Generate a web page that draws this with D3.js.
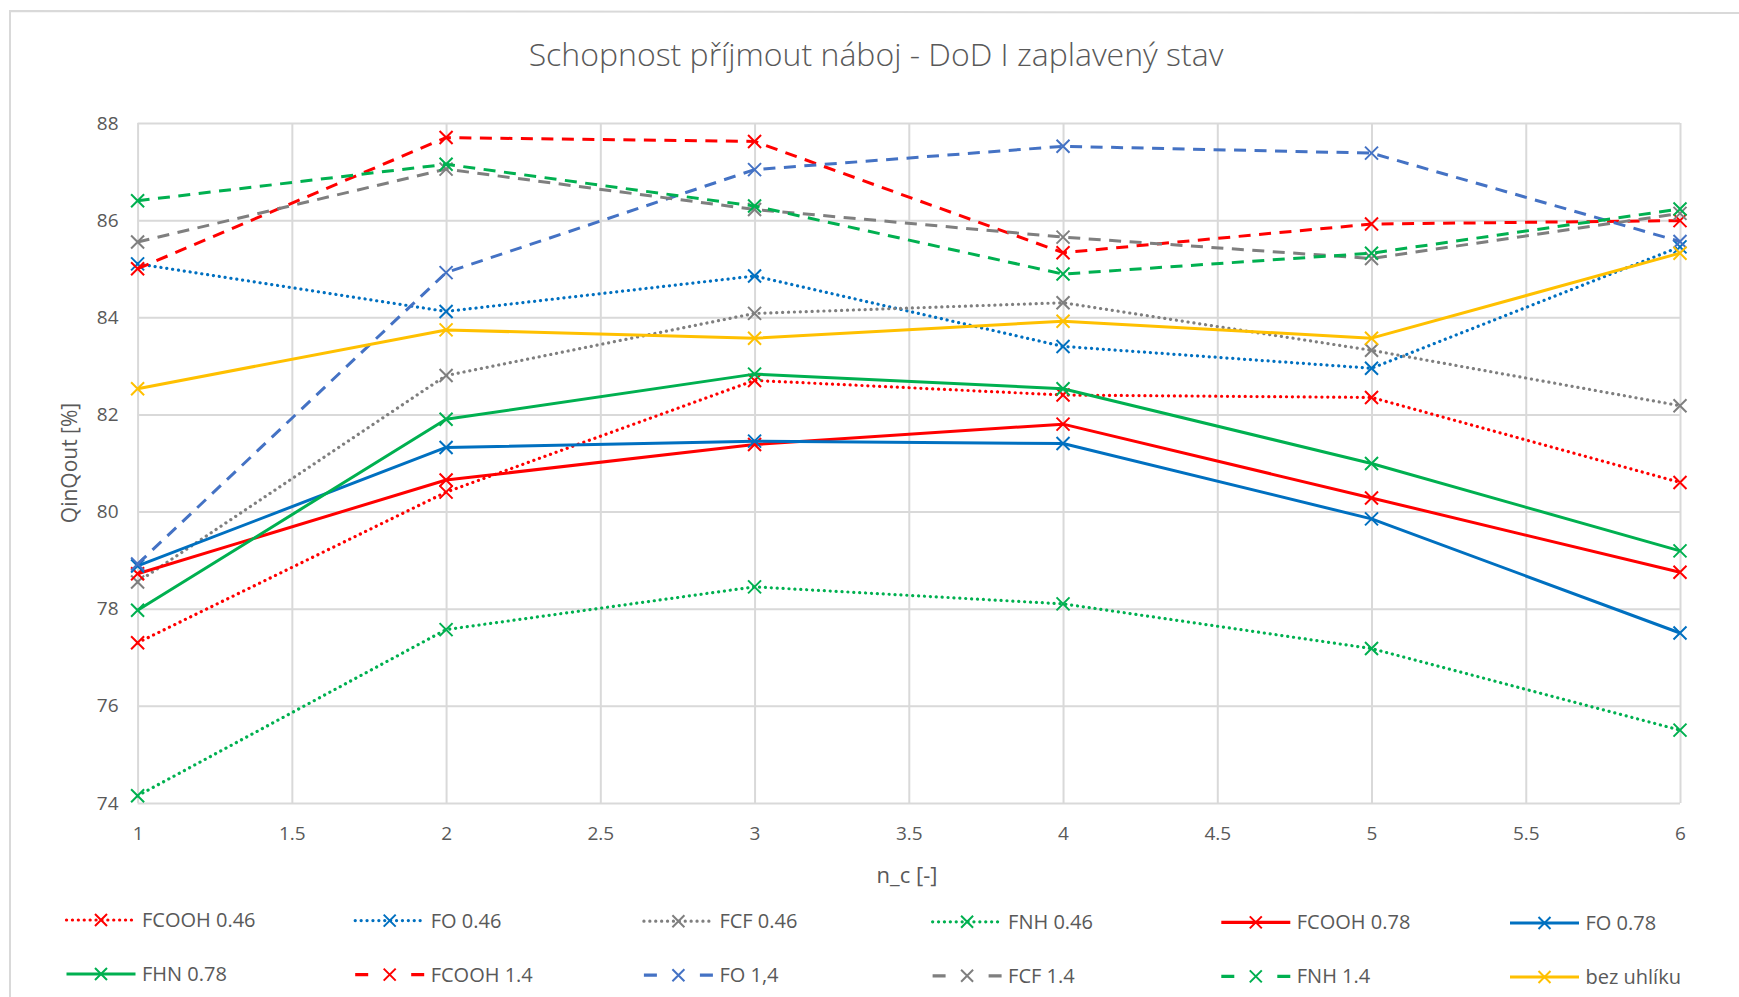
<!DOCTYPE html>
<html>
<head>
<meta charset="utf-8">
<script src="https://cdn.jsdelivr.net/npm/d3@7"></script>
<style>
  html, body { margin: 0; padding: 0; background: #fff; }
  svg { display: block; }
  text { font-family: "Open Sans", "Noto Sans", sans-serif; fill: #595959; }
</style>
</head>
<body>
<svg id="chart" width="1739" height="997"></svg>
<script>
// ---------- data ----------
const chartTitle = "Schopnost příjmout náboj - DoD I zaplavený stav";
const xTitle = "n_c [-]";
const yTitle = "QinQout [%]";
const categories = [1, 2, 3, 4, 5, 6];
const xTickValues = [1, 1.5, 2, 2.5, 3, 3.5, 4, 4.5, 5, 5.5, 6];
const xTickLabels = ["1", "1.5", "2", "2.5", "3", "3.5", "4", "4.5", "5", "5.5", "6"];
const yTickValues = [74, 76, 78, 80, 82, 84, 86, 88];
const yTickLabels = ["74", "76", "78", "80", "82", "84", "86", "88"];

const seriesNames = ["FCOOH 0.46", "FO 0.46", "FCF 0.46", "FNH 0.46", "FCOOH 0.78", "FO 0.78",
                     "FHN 0.78", "FCOOH 1.4", "FO 1,4", "FCF 1.4", "FNH 1.4", "bez uhlíku"];
const fcooh046 = [77.3, 80.4, 82.7, 82.4, 82.35, 80.6];
const fo046    = [85.1, 84.12, 84.85, 83.4, 82.95, 85.45];
const fcf046   = [78.55, 82.8, 84.08, 84.3, 83.32, 82.18];
const fnh046   = [74.15, 77.57, 78.45, 78.1, 77.18, 75.5];
const fcooh078 = [78.72, 80.65, 81.38, 81.8, 80.28, 78.75];
const fo078    = [78.88, 81.32, 81.45, 81.4, 79.85, 77.5];
const fhn078   = [77.97, 81.9, 82.83, 82.53, 80.99, 79.19];
const fcooh14  = [85.0, 87.7, 87.62, 85.33, 85.92, 85.99];
const fo14     = [78.92, 84.92, 87.04, 87.52, 87.38, 85.56];
const fcf14    = [85.55, 87.05, 86.22, 85.65, 85.21, 86.14];
const fnh14    = [86.4, 87.15, 86.29, 84.89, 85.32, 86.23];
const bezUhliku = [82.53, 83.74, 83.57, 83.92, 83.57, 85.32];
const seriesValues = [fcooh046, fo046, fcf046, fnh046, fcooh078, fo078,
                      fhn078, fcooh14, fo14, fcf14, fnh14, bezUhliku];

// ---------- styles ----------
const seriesColors = ["#FF0000", "#0070C0", "#7F7F7F", "#00B050", "#FF0000", "#0070C0",
                      "#00B050", "#FF0000", "#4472C4", "#7F7F7F", "#00B050", "#FFC000"];
const seriesDash = ["dot", "dot", "dot", "dot", "solid", "solid",
                    "solid", "dash", "dash", "dash", "dash", "solid"];
const dashArray = { dot: "0.1 5.8", solid: null, dash: "12 8.5" };
const legendDash = { dot: "0.1 5.8", solid: null, dash: "13 43 13" };

// ---------- layout ----------
const svg = d3.select("#chart");
const plot = { left: 137.6, right: 1680, top: 123, bottom: 803 };
const x = d3.scaleLinear().domain([1, 6]).range([plot.left, plot.right]);
const y = d3.scaleLinear().domain([74, 88]).range([plot.bottom, plot.top]);

svg.append("rect").attr("width", 1739).attr("height", 997).attr("fill", "#fff");

// chart frame (page border)
svg.append("path")
  .attr("d", "M10,1000 L10,11 L1739,13")
  .attr("fill", "none").attr("stroke", "#D9D9D9").attr("stroke-width", 2);

// title
svg.append("text")
  .attr("x", 876).attr("y", 55).attr("dy", "0.35em")
  .attr("text-anchor", "middle")
  .style("font-size", "32px").style("font-weight", 300)
  .style("fill", "#595959")
  .text(chartTitle);

// y axis with gridlines
const yAxis = svg.append("g")
  .attr("transform", `translate(${plot.left},0)`)
  .call(d3.axisLeft(y).tickValues(yTickValues)
        .tickFormat((d, i) => yTickLabels[i])
        .tickSize(-(plot.right - plot.left)).tickPadding(19));
yAxis.select(".domain").remove();
yAxis.selectAll(".tick line").attr("stroke", "#D9D9D9").attr("stroke-width", 2);
yAxis.selectAll(".tick text").style("font-size", "19px").style("fill", "#595959");

// x axis with gridlines
const xAxis = svg.append("g")
  .attr("transform", `translate(0,${plot.bottom})`)
  .call(d3.axisBottom(x).tickValues(xTickValues)
        .tickFormat((d, i) => xTickLabels[i])
        .tickSize(-(plot.bottom - plot.top)).tickPadding(24));
xAxis.select(".domain").remove();
xAxis.selectAll(".tick line").attr("stroke", "#D9D9D9").attr("stroke-width", 2);
xAxis.selectAll(".tick text").style("font-size", "19px").style("fill", "#595959");

// axis titles
svg.append("text")
  .attr("transform", "translate(70,463) rotate(-90)")
  .attr("text-anchor", "middle").attr("dy", "0.35em")
  .style("font-size", "21px")
  .text(yTitle);
svg.append("text")
  .attr("x", 907).attr("y", 875).attr("dy", "0.35em")
  .attr("text-anchor", "middle")
  .style("font-size", "22px")
  .text(xTitle);

// marker helper
function xMark(g, cx, cy, color, r) {
  g.append("path")
    .attr("d", `M${cx - r},${cy - r}L${cx + r},${cy + r}M${cx - r},${cy + r}L${cx + r},${cy - r}`)
    .attr("stroke", color).attr("stroke-width", 2).attr("fill", "none");
}

// series
const line = d3.line().x((d, i) => x(categories[i])).y(d => y(d));
const seriesG = svg.append("g");
seriesValues.forEach((vals, si) => {
  const g = seriesG.append("g");
  const style = seriesDash[si];
  g.append("path")
    .datum(vals)
    .attr("d", line)
    .attr("fill", "none")
    .attr("stroke", seriesColors[si])
    .attr("stroke-width", style === "dot" ? 3.2 : 3)
    .attr("stroke-linejoin", "round")
    .attr("stroke-linecap", style === "dot" ? "round" : "butt")
    .attr("stroke-dasharray", dashArray[style]);
  vals.forEach((v, i) => xMark(g, x(categories[i]), y(v), seriesColors[si], 6.5));
});

// legend
const legend = svg.append("g");
const legendX0 = 66.5, legendDX = 288.4, legendSym = 69, legendRows = [920, 974];
seriesNames.forEach((name, i) => {
  const col = i % 6, row = Math.floor(i / 6);
  const lx = legendX0 + col * legendDX + col * 0.3;
  const ly = legendRows[row] + col * 0.6;
  const style = seriesDash[i];
  const g = legend.append("g");
  g.append("line")
    .attr("x1", lx).attr("x2", lx + legendSym)
    .attr("y1", ly).attr("y2", ly)
    .attr("stroke", seriesColors[i]).attr("stroke-width", 3.2)
    .attr("stroke-linecap", style === "dot" ? "round" : "butt")
    .attr("stroke-dasharray", legendDash[style]);
  xMark(g, lx + legendSym / 2, ly, seriesColors[i], 6);
  g.append("text")
    .attr("x", lx + 75.5).attr("y", ly).attr("dy", "0.35em")
    .style("font-size", "20px")
    .text(name);
});
</script>
</body>
</html>
